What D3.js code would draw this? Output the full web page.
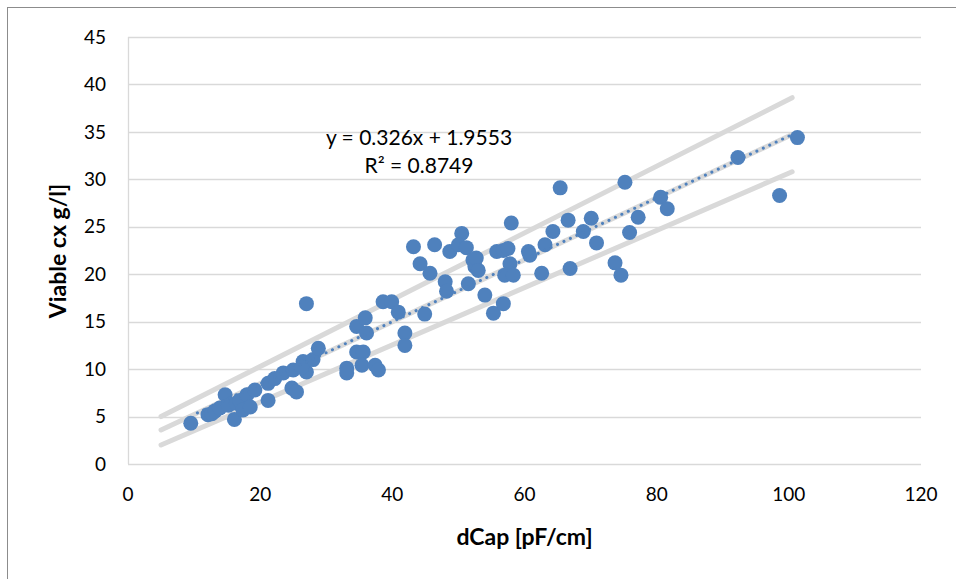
<!DOCTYPE html>
<html>
<head>
<meta charset="utf-8">
<script src="https://cdn.jsdelivr.net/npm/d3@7"></script>
<style>
  html, body { margin: 0; padding: 0; background: #fff; }
  svg { display: block; font-family: Lato, "Open Sans", sans-serif; }
  .tick-label { font-size: 19px; fill: #000; }
  .axis-title { font-size: 23px; font-weight: bold; fill: #000; }
  .eq { font-size: 21px; fill: #000; }
</style>
</head>
<body>
<div id="chart"></div>
<script>
// dCap [pF/cm] vs viable cell concentration
const dCap = [
  9.5, 12.1, 12.7, 13.2, 13.9, 14.7, 15.2, 16.1, 16.4, 16.9,
  17.4, 18.0, 18.5, 19.2, 21.2, 21.2, 22.2, 23.5, 24.8, 25.5,
  25.0, 26.5, 27.0, 28.0, 28.8, 27.0, 26.3, 33.1, 33.1, 34.6,
  35.6, 35.4, 37.4, 37.9, 34.6, 35.9, 36.1, 38.6, 39.9, 40.9,
  41.9, 41.9, 44.9, 43.2, 44.2, 45.7, 46.4, 48.0, 48.2, 48.7,
  50.5, 50.0, 51.2, 52.2, 52.5, 51.5, 52.7, 53.0, 54.0, 55.3,
  56.8, 55.8, 56.8, 57.5, 58.0, 57.8, 57.0, 58.3, 60.6, 60.8,
  62.6, 63.1, 64.3, 66.6, 66.9, 68.9, 70.1, 70.9, 65.4, 75.2,
  73.7, 74.6, 75.9, 77.2, 80.6, 81.6, 92.3, 101.3, 98.6
];
const viable = [
  4.3, 5.2, 5.3, 5.6, 5.9, 7.3, 6.2, 4.7, 6.4, 6.7,
  5.7, 7.3, 6.0, 7.8, 6.7, 8.5, 9.0, 9.6, 8.0, 7.6,
  9.9, 10.8, 9.7, 11.0, 12.2, 16.9, 10.2, 10.1, 9.6, 11.8,
  11.8, 10.4, 10.4, 9.9, 14.5, 15.4, 13.8, 17.1, 17.1, 16.0,
  13.8, 12.5, 15.8, 22.9, 21.1, 20.1, 23.1, 19.2, 18.2, 22.4,
  24.3, 23.1, 22.8, 21.5, 20.8, 19.0, 21.7, 20.4, 17.8, 15.9,
  16.9, 22.4, 22.5, 22.7, 25.4, 21.1, 19.9, 19.9, 22.4, 22.0,
  20.1, 23.1, 24.5, 25.7, 20.6, 24.5, 25.9, 23.3, 29.1, 29.7,
  21.2, 19.9, 24.4, 26.0, 28.1, 26.9, 32.3, 34.4, 28.3
];

// linear fit and band lines (start / end x)
const slope = 0.326;
const intercept = 1.9553;
const fitRange = [5, 100.5];
const trendRange = [10.5, 101.3];
const upperBand = [5.0, 38.6];
const lowerBand = [2.0, 30.8];

const xTicks = [0, 20, 40, 60, 80, 100, 120];
const yTicks = [0, 5, 10, 15, 20, 25, 30, 35, 40, 45];

const W = 956, H = 579;
const plot = { left: 128, right: 921, top: 37, bottom: 464 };
const BLUE = '#4F81BD';
const GRID = '#d9d9d9';

const svg = d3.select('#chart').append('svg')
  .attr('width', W).attr('height', H);

// outer chart border
svg.append('rect')
  .attr('x', 7.5).attr('y', 7.5)
  .attr('width', W + 10).attr('height', H + 10)
  .attr('fill', 'none').attr('stroke', '#8c8c8c').attr('stroke-width', 1);

const x = d3.scaleLinear().domain([0, 120]).range([plot.left, plot.right]);
const y = d3.scaleLinear().domain([0, 45]).range([plot.bottom, plot.top]);

// horizontal grid
svg.append('g').selectAll('line').data(yTicks).enter().append('line')
  .attr('x1', plot.left).attr('x2', plot.right)
  .attr('y1', d => Math.round(y(d)) + 0.5).attr('y2', d => Math.round(y(d)) + 0.5)
  .attr('stroke', GRID).attr('stroke-width', 1.3);

// y axis line
svg.append('line')
  .attr('x1', plot.left + 0.5).attr('x2', plot.left + 0.5)
  .attr('y1', plot.top).attr('y2', plot.bottom)
  .attr('stroke', GRID).attr('stroke-width', 1.3);

// tick labels
svg.append('g').selectAll('text').data(yTicks).enter().append('text')
  .attr('class', 'tick-label')
  .attr('x', 106).attr('y', d => y(d)).attr('dy', '0.35em')
  .attr('text-anchor', 'end')
  .text(d => d);

svg.append('g').selectAll('text').data(xTicks).enter().append('text')
  .attr('class', 'tick-label')
  .attr('x', d => x(d)).attr('y', 494).attr('dy', '0.35em')
  .attr('text-anchor', 'middle')
  .text(d => d);

// axis titles
svg.append('text').attr('class', 'axis-title')
  .attr('x', (plot.left + plot.right) / 2).attr('y', 537).attr('dy', '0.35em')
  .attr('text-anchor', 'middle')
  .text('dCap [pF/cm]');

svg.append('text').attr('class', 'axis-title')
  .attr('transform', 'translate(58,' + 251 + ') rotate(-90)')
  .attr('dy', '0.35em')
  .attr('text-anchor', 'middle')
  .text('Viable cx g/l]');

// band lines (gray)
const line = d3.line().x(d => x(d[0])).y(d => y(d[1]));
const fitLine = fitRange.map(v => [v, slope * v + intercept]);
const bands = [
  [[fitRange[0], upperBand[0]], [fitRange[1], upperBand[1]]],
  fitLine,
  [[fitRange[0], lowerBand[0]], [fitRange[1], lowerBand[1]]]
];
svg.append('g').selectAll('path').data(bands).enter().append('path')
  .attr('d', line)
  .attr('fill', 'none').attr('stroke', GRID).attr('stroke-width', 5)
  .attr('stroke-linecap', 'round');

// points
svg.append('g').selectAll('circle').data(dCap.map((v, i) => [v, viable[i]]))
  .enter().append('circle')
  .attr('cx', d => x(d[0])).attr('cy', d => y(d[1]))
  .attr('r', 7.5)
  .attr('fill', BLUE);

// dotted trend line
svg.append('path')
  .attr('d', line(trendRange.map(v => [v, slope * v + intercept])))
  .attr('fill', 'none').attr('stroke', BLUE).attr('stroke-width', 3)
  .attr('stroke-linecap', 'round').attr('stroke-dasharray', '0.1 7');

// equation label
svg.append('text').attr('class', 'eq')
  .attr('x', 419).attr('y', 145).attr('text-anchor', 'middle')
  .text('y = 0.326x + 1.9553');
svg.append('text').attr('class', 'eq')
  .attr('x', 419).attr('y', 173).attr('text-anchor', 'middle')
  .text('R² = 0.8749');
</script>
</body>
</html>
